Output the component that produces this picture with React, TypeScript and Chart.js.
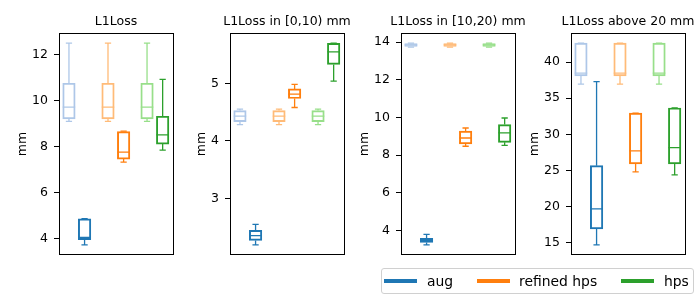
import React, { useEffect, useRef } from 'react';
import { Chart, registerables } from 'chart.js';

Chart.register(...registerables);

// ---------- data ----------
const positions = [1, 1.4, 2, 2.4, 3, 3.4];
const seriesNames = ['aug', 'refined hps', 'hps'];
const panelTitles = ['L1Loss', 'L1Loss in [0,10) mm', 'L1Loss in [10,20) mm', 'L1Loss above 20 mm'];
const yTickSteps = [2, 1, 2, 5];

// each row: [low whisker, Q1, median, Q3, high whisker]; rows follow `positions`
const statsAll = [
  [9.1, 9.2, 9.71, 10.75, 12.49],
  [3.74, 3.97, 4.07, 4.87, 4.88],
  [9.1, 9.2, 9.71, 10.75, 12.49],
  [7.33, 7.46, 7.76, 8.65, 8.67],
  [9.1, 9.2, 9.71, 10.75, 12.49],
  [7.85, 8.11, 8.51, 9.32, 10.92],
];
const stats0to10 = [
  [4.285, 4.337, 4.43, 4.529, 4.552],
  [2.19, 2.268, 2.35, 2.442, 2.547],
  [4.285, 4.337, 4.43, 4.529, 4.552],
  [4.582, 4.738, 4.813, 4.906, 4.983],
  [4.285, 4.337, 4.43, 4.529, 4.552],
  [5.04, 5.331, 5.551, 5.697, 5.703],
];
const stats10to20 = [
  [13.74, 13.77, 13.85, 13.92, 13.95],
  [3.23, 3.36, 3.47, 3.58, 3.79],
  [13.74, 13.77, 13.85, 13.92, 13.95],
  [8.47, 8.59, 8.91, 9.27, 9.44],
  [13.74, 13.77, 13.85, 13.92, 13.95],
  [8.52, 8.68, 9.18, 9.62, 9.97],
];
const statsAbove20 = [
  [36.96, 38.07, 38.48, 42.62, 42.62],
  [14.72, 16.93, 19.7, 25.68, 37.28],
  [36.96, 38.07, 38.48, 42.62, 42.62],
  [24.81, 25.91, 27.71, 32.95, 32.95],
  [36.96, 38.07, 38.48, 42.62, 42.62],
  [24.39, 25.91, 28.16, 33.65, 33.65],
];
const panelStats = [statsAll, stats0to10, stats10to20, statsAbove20];

// ---------- style ----------
const boxColors = ['#aec7e8', '#1f77b4', '#ffbb78', '#ff7f0e', '#98df8a', '#2ca02c'];
const legendColors = ['#1f77b4', '#ff7f0e', '#2ca02c'];
const FONT = "'DejaVu Sans', sans-serif";
const BOX_PX = 12.5;
const LINE_W = 1.3;
const AXIS_W = 60;
const PANEL_W = 114;
const panelLefts = [59, 230, 401, 571];

Chart.defaults.font.family = FONT;

const boxDecor = {
  id: 'boxDecor',
  afterDatasetsDraw(chart: any, _args: any, opts: any) {
    const { ctx, chartArea, scales } = chart;
    const x = scales.x;
    const y = scales.y;
    const stats: number[][] = opts.stats;
    ctx.save();
    ctx.lineWidth = LINE_W;
    stats.forEach((s, i) => {
      const cx = x.getPixelForValue(positions[i]);
      const half = BOX_PX / 2;
      const capHalf = BOX_PX / 4;
      const [wl, q1, med, q3, wh] = s.map((v) => y.getPixelForValue(v));
      ctx.strokeStyle = boxColors[i];
      ctx.beginPath();
      ctx.moveTo(cx, q1);
      ctx.lineTo(cx, wl);
      ctx.moveTo(cx, q3);
      ctx.lineTo(cx, wh);
      ctx.moveTo(cx - capHalf, wl);
      ctx.lineTo(cx + capHalf, wl);
      ctx.moveTo(cx - capHalf, wh);
      ctx.lineTo(cx + capHalf, wh);
      ctx.moveTo(cx - half, med);
      ctx.lineTo(cx + half, med);
      ctx.stroke();
    });
    // frame
    ctx.strokeStyle = '#000';
    ctx.lineWidth = 1;
    ctx.strokeRect(
      chartArea.left + 0.5,
      chartArea.top + 0.5,
      chartArea.right - chartArea.left,
      chartArea.bottom - chartArea.top - 1
    );
    // title
    ctx.fillStyle = '#000';
    ctx.font = `12.5px ${FONT}`;
    ctx.textAlign = 'center';
    ctx.textBaseline = 'alphabetic';
    const cxa = (chartArea.left + chartArea.right) / 2;
    ctx.fillText(opts.title, cxa, chartArea.top - 8.3);
    // y label
    let maxW = 0;
    y.ticks.forEach((t: any) => {
      const w = ctx.measureText(String(t.label)).width;
      if (w > maxW) maxW = w;
    });
    const lx = chartArea.left - 17 - maxW;
    const ly = (chartArea.top + chartArea.bottom) / 2;
    ctx.translate(lx, ly);
    ctx.rotate(-Math.PI / 2);
    ctx.fillText('mm', 0, 0);
    ctx.restore();
  },
};

function Panel({ idx }: { idx: number }) {
  const ref = useRef<HTMLCanvasElement>(null);
  useEffect(() => {
    const stats = panelStats[idx];
    const flat = stats.flat();
    const lo = Math.min(...flat);
    const hi = Math.max(...flat);
    const m = (hi - lo) * 0.05;
    const chart = new Chart(ref.current as HTMLCanvasElement, {
      type: 'bar',
      data: {
        datasets: stats.map((s, i) => ({
          data: [{ x: positions[i], y: [s[1], s[3]] }],
          borderColor: boxColors[i],
          backgroundColor: 'rgba(0,0,0,0)',
          borderWidth: LINE_W,
          borderSkipped: false,
          barThickness: BOX_PX,
          grouped: false,
        })) as any,
      },
      options: {
        responsive: false,
        animation: false,
        devicePixelRatio: 1,
        layout: { padding: { left: 0, right: 20, top: 33, bottom: 45 } },
        plugins: {
          legend: { display: false },
          tooltip: { enabled: false },
          title: { display: false },
          boxDecor: { stats, title: panelTitles[idx] },
        } as any,
        scales: {
          x: { type: 'linear', min: 0.745, max: 3.665, display: false, offset: false },
          y: {
            type: 'linear',
            min: lo - m,
            max: hi + m,
            afterFit: (s: any) => {
              s.width = AXIS_W;
            },
            border: { display: false },
            grid: { drawOnChartArea: false, drawTicks: true, tickLength: 5, color: '#000', lineWidth: 1 },
            ticks: {
              stepSize: yTickSteps[idx],
              includeBounds: false,
              padding: 6,
              color: '#000',
              font: { size: 12.5, family: FONT },
            },
          },
        } as any,
      },
      plugins: [boxDecor],
    });
    return () => chart.destroy();
  }, [idx]);
  return (
    <canvas
      ref={ref}
      width={AXIS_W + PANEL_W + 20}
      height={300}
      style={{ position: 'absolute', left: panelLefts[idx] - AXIS_W, top: 0, width: AXIS_W + PANEL_W + 20, height: 300 }}
    />
  );
}

const legendLineLefts = [2, 95, 239];
const legendTextLefts = [45, 137, 282];

export default function App() {
  return (
    <div style={{ position: 'fixed', left: 0, top: 0, width: 700, height: 300, background: '#fff', overflow: 'hidden' }}>
      {[0, 1, 2, 3].map((i) => (
        <Panel key={i} idx={i} />
      ))}
      <div
        style={{
          position: 'absolute',
          left: 381,
          top: 268,
          width: 311,
          height: 24,
          border: '1px solid #d0d0d0',
          borderRadius: 3,
          background: '#fff',
          fontFamily: FONT,
          fontSize: 13.9,
          color: '#000',
        }}
      >
        {seriesNames.map((n, i) => (
          <React.Fragment key={n}>
            <div
              style={{
                position: 'absolute',
                left: legendLineLefts[i],
                top: 10,
                width: 33,
                height: 4,
                background: legendColors[i],
              }}
            />
            <div
              style={{
                position: 'absolute',
                left: legendTextLefts[i],
                top: 0,
                height: 24,
                lineHeight: '24px',
                whiteSpace: 'nowrap',
              }}
            >
              {n}
            </div>
          </React.Fragment>
        ))}
      </div>
    </div>
  );
}
